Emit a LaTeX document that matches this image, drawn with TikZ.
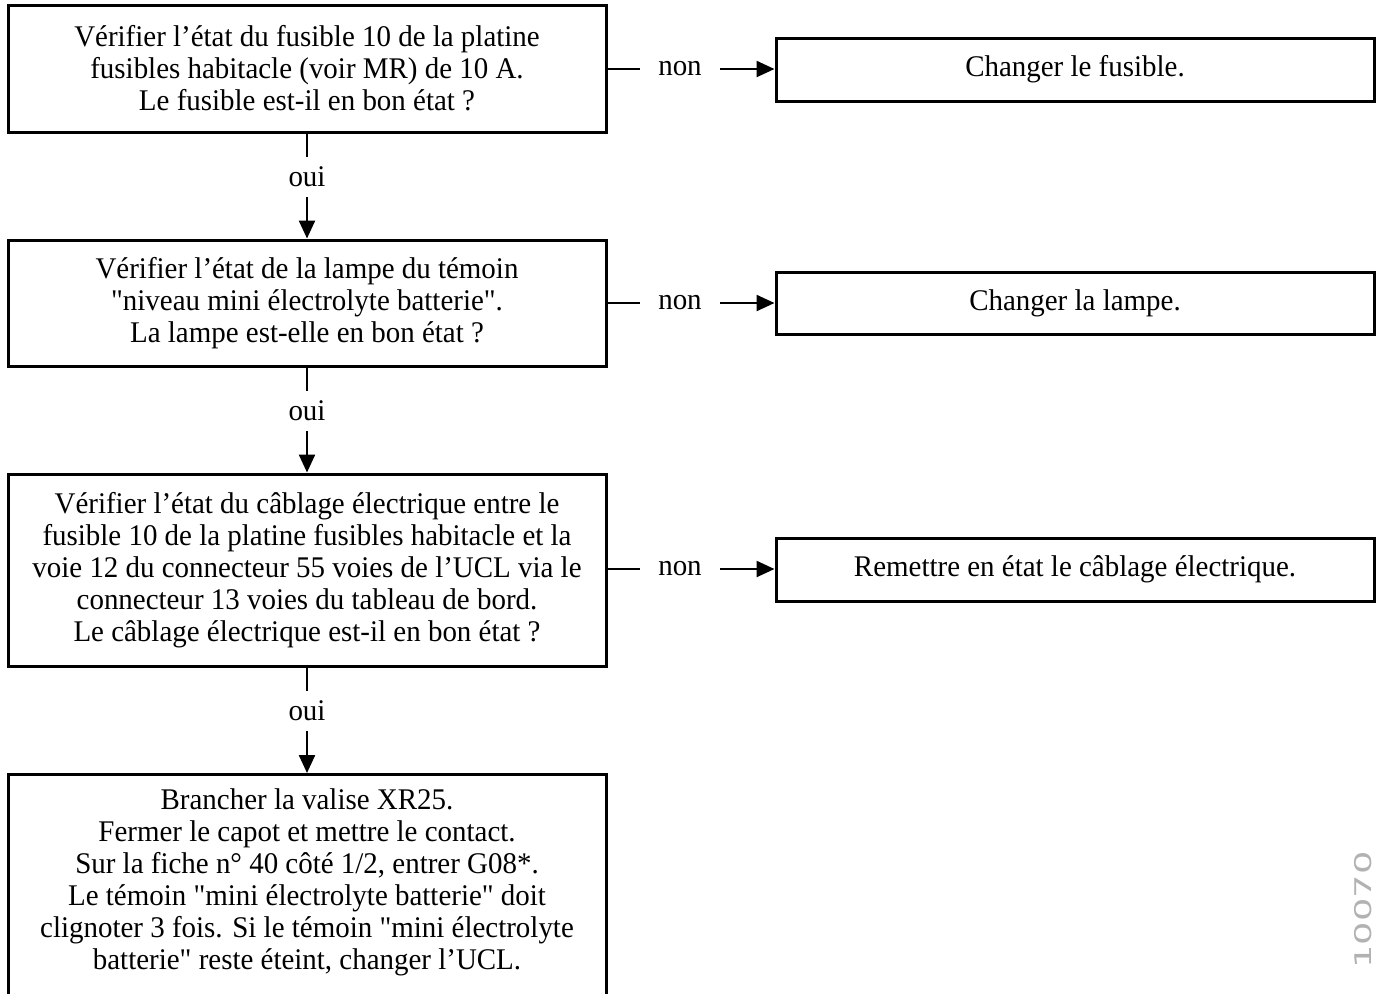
\documentclass[tikz,border=0pt]{standalone}
\usepackage{fontspec}
\setmainfont[FakeStretch=0.965, Ligatures=TeXOff]{Liberation Serif}
\newfontfamily\reffont[FakeStretch=1.6]{DejaVu Sans}
\usetikzlibrary{arrows.meta}
\begin{document}
\begin{tikzpicture}[x=0.5pt,y=-0.5pt,
  box/.style={draw, line width=1.5pt, minimum width=299pt, inner sep=0pt, align=center,
    font=\fontsize{15pt}{16pt}\selectfont},
  lbl/.style={inner sep=0pt, font=\fontsize{15pt}{16pt}\selectfont},
  nonlbl/.style={lbl, minimum width=40pt},
  ouilbl/.style={lbl, minimum height=20pt},
  link/.style={line width=1.2pt},
  arr/.style={link, -{Triangle[length=9pt,width=8pt]}},
  txt/.style={inner sep=0pt, align=center, font=\fontsize{15pt}{16pt}\selectfont}]
\useasboundingbox (0,0) rectangle (1383,993);
\clip (0,0) rectangle (1383,993);

% left column: checks
\node[box, minimum height=63.5pt] (b1) at (307,68.5) {Vérifier l’état du fusible 10 de la platine\\
 fusibles habitacle (voir MR) de 10 A.\\Le fusible est-il en bon état ?};
\node[box, minimum height=63pt] (b2) at (307,303) {Vérifier l’état de la lampe du témoin\\
"niveau mini électrolyte batterie".\\La lampe est-elle en bon état ?};
\node[box, minimum height=96pt] (b3) at (307,570) {Vérifier l’état du câblage électrique entre le\\
fusible 10 de la platine fusibles habitacle et la\\
voie 12 du connecteur 55 voies de l’UCL via le\\
connecteur 13 voies du tableau de bord.\\
Le câblage électrique est-il en bon état ?};
\node[box, minimum height=130pt, anchor=north] (b4) at (307,773) {};
\node[txt] (t4) at (307,882.5) {Brancher la valise XR25.\\
Fermer le capot et mettre le contact.\\
Sur la fiche n° 40 côté 1/2, entrer G08*.\\
Le témoin "mini électrolyte batterie" doit\\
clignoter 3 fois. Si le témoin "mini électrolyte\\
batterie" reste éteint, changer l’UCL.};

% right column: repairs
\node[box, minimum height=31.5pt] (r1) at (1075,69.5) {Changer le fusible.};
\node[box, minimum height=31pt] (r2) at (1075,303) {Changer la lampe.};
\node[box, minimum height=31.5pt] (r3) at (1075,569.5) {Remettre en état le câblage électrique.};

% "non" branches
\node[nonlbl] (n1) at (680,69) {non};
\node[nonlbl] (n2) at (680,303) {non};
\node[nonlbl] (n3) at (680,569) {non};
\draw[link] (b1.east |- n1) -- (n1.west);
\draw[arr] (n1.east) -- (r1.west |- n1);
\draw[link] (b2.east |- n2) -- (n2.west);
\draw[arr] (n2.east) -- (r2.west |- n2);
\draw[link] (b3.east |- n3) -- (n3.west);
\draw[arr] (n3.east) -- (r3.west |- n3);

% "oui" branches
\node[ouilbl] (o1) at (307,177) {oui};
\node[ouilbl] (o2) at (307,411) {oui};
\node[ouilbl] (o3) at (307,711) {oui};
\draw[link] (b1.south) -- (o1.north);
\draw[arr] (o1.south) -- (b2.north);
\draw[link] (b2.south) -- (o2.north);
\draw[arr] (o2.south) -- (b3.north);
\draw[link] (b3.south) -- (o3.north);
\draw[arr] (o3.south) -- (b4.north);

% figure reference along the page edge
\node[rotate=90, anchor=north, text=black!30, inner sep=0pt,
  font=\fontsize{11.5pt}{11.5pt}\reffont] (ref) at (1354,910) {10070};
\end{tikzpicture}
\end{document}
